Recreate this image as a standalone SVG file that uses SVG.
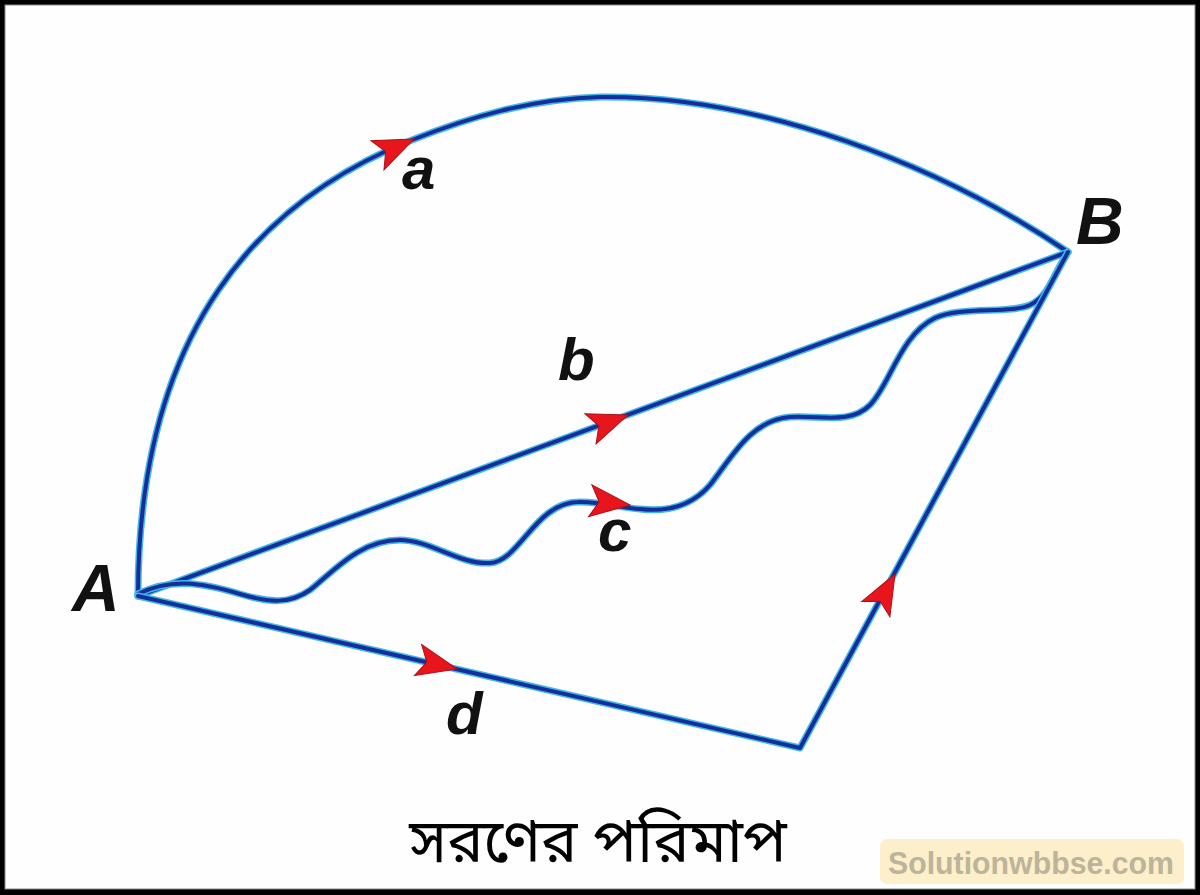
<svg xmlns="http://www.w3.org/2000/svg" width="1200" height="895" viewBox="0 0 1200 895">
  <style>
    .halo { fill: none; stroke: #45b6ea; stroke-width: 7; stroke-linecap: round; stroke-linejoin: round; }
    .core { fill: none; stroke: #13309a; stroke-width: 4; stroke-linecap: round; stroke-linejoin: round; }
    .lbl { font-family: "Liberation Sans", Arial, sans-serif; font-style: italic; font-weight: bold; fill: #111; }
    .title { font-family: "Noto Sans Bengali", "Noto Sans", "Noto Sans CJK SC", sans-serif; font-size: 61px; fill: #000; }
    .wm { font-family: "Liberation Sans", Arial, sans-serif; font-size: 32px; font-weight: bold; fill: #bdb49c; }
  </style>
  <defs>
    <path id="arr" d="M0,0 L-40,-16 L-31,0 L-40,16 Z" fill="#e8151c" stroke="#b01015" stroke-width="1"/>
  </defs>

  <rect x="0" y="0" width="1200" height="895" fill="#000"/>
  <rect x="5" y="5" width="1190" height="884" fill="#fefefe" stroke="#8a8a8a" stroke-width="1"/>

  <g id="connectors">
    <g id="path-a">
      <path class="halo" d="M138,596 C138,330 260,200 412,140 C470,117 530,99 600,97 C760,95 940,165 1068,252"/>
      <path class="core" d="M138,596 C138,330 260,200 412,140 C470,117 530,99 600,97 C760,95 940,165 1068,252"/>
      <use href="#arr" transform="translate(414,139) rotate(-24)"/>
    </g>
    <g id="path-b">
      <path class="halo" d="M138,596 L1068,252"/>
      <path class="core" d="M138,596 L1068,252"/>
      <use href="#arr" transform="translate(628,415) rotate(-20.3)"/>
    </g>
    <g id="path-c">
      <path class="halo" d="M138,594 C170,578 200,582 240,594 C270,603 290,604 310,590 C335,570 360,540 400,540 C430,540 460,565 490,563 C520,561 535,503 578,502 C600,501 620,508 640,509 C665,512 690,508 710,485 C730,460 750,420 790,417 C820,415 850,425 870,405 C890,385 900,335 935,318 C960,306 1010,314 1030,305 C1050,296 1055,270 1066,256"/>
      <path class="core" d="M138,594 C170,578 200,582 240,594 C270,603 290,604 310,590 C335,570 360,540 400,540 C430,540 460,565 490,563 C520,561 535,503 578,502 C600,501 620,508 640,509 C665,512 690,508 710,485 C730,460 750,420 790,417 C820,415 850,425 870,405 C890,385 900,335 935,318 C960,306 1010,314 1030,305 C1050,296 1055,270 1066,256"/>
      <use href="#arr" transform="translate(630,505) rotate(6)"/>
    </g>
    <g id="path-d">
      <path class="halo" d="M138,596 L800,748 L1068,252"/>
      <path class="core" d="M138,596 L800,748 L1068,252"/>
      <use href="#arr" transform="translate(457,669) rotate(13)"/>
      <use href="#arr" transform="translate(895,574) rotate(-61.4)"/>
    </g>
  </g>

  <g id="node-A"><text class="lbl" x="72" y="611" font-size="66">A</text></g>
  <g id="node-B"><text class="lbl" x="1076" y="244" font-size="66">B</text></g>
  <g id="label-a"><text class="lbl" x="402" y="189" font-size="60">a</text></g>
  <g id="label-b"><text class="lbl" x="558" y="380" font-size="60">b</text></g>
  <g id="label-c"><text class="lbl" x="598" y="551" font-size="60">c</text></g>
  <g id="label-d"><text class="lbl" x="446" y="734" font-size="60">d</text></g>

  <g id="title"><text class="title" x="598" y="862" text-anchor="middle">সরণের পরিমাপ</text></g>

  <g id="watermark">
    <rect x="880" y="839" width="304" height="45" rx="7" fill="#fcefc9"/>
    <text class="wm" x="1031" y="874" text-anchor="middle" textLength="286" lengthAdjust="spacingAndGlyphs">Solutionwbbse.com</text>
  </g>
</svg>
